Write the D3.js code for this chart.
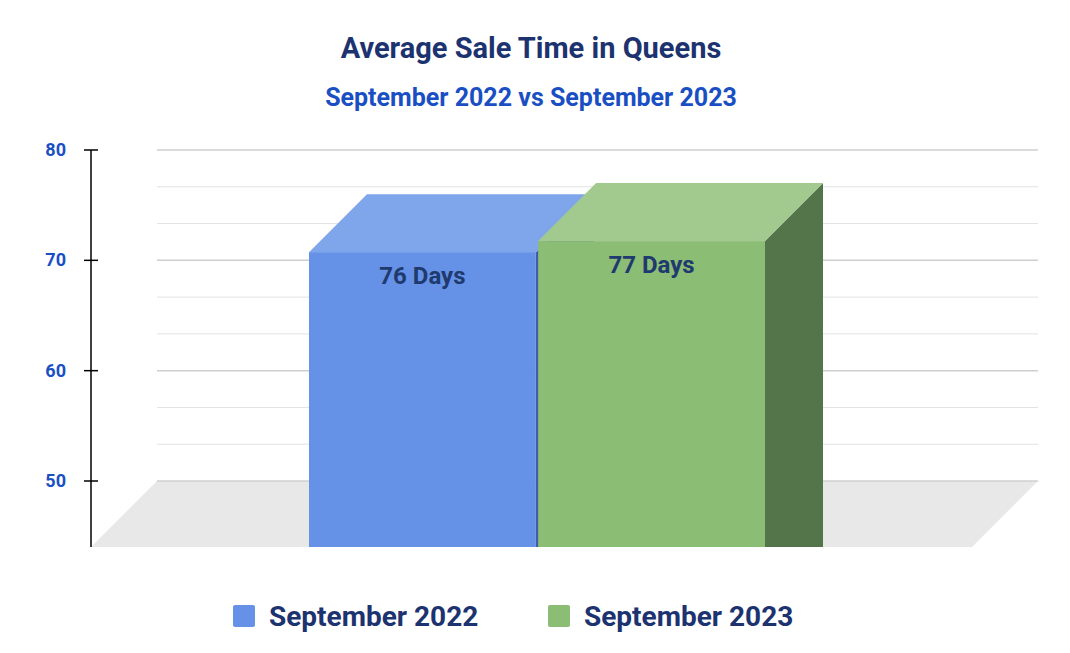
<!DOCTYPE html><html><head><meta charset="utf-8">
<script src="https://cdn.jsdelivr.net/npm/d3@7"></script>
<style>body{margin:0;background:#fff}</style></head><body>
<svg id="c" width="1070" height="653"></svg>
<script>
const categories=["September 2022","September 2023"];
const values=[76,77];
const labels=["76 Days","77 Days"];
const yTicks=[50,60,70,80];
const colors=[{front:"#6592e6",top:"#7fa5ea",side:"#3e5fa8"},{front:"#8bbd74",top:"#a2ca8f",side:"#54744a"}];

const svg=d3.select("#c");
const font="Roboto, Arial, sans-serif";
const y=d3.scaleLinear().domain([50,80]).range([481,150]);
const x=d3.scaleBand().domain(categories).range([309,765]).paddingInner(0.01);
const dx=58, dy=58, fdx=66, fdy=66;

// floor
svg.append("polygon").attr("points",`91,547 157,481 1038,481 972,547`).attr("fill","#e8e8e8");
// grid
d3.range(50,80.01,10/3).forEach(v=>{
  const major=Math.abs(v-Math.round(v/10)*10)<0.01;
  svg.append("line").attr("x1",157).attr("x2",1038).attr("y1",y(v)).attr("y2",y(v))
   .attr("stroke",major?"#cfcfcf":"#e2e2e2").attr("stroke-width",major?1.5:1);
});
// axis
svg.append("line").attr("x1",91).attr("x2",91).attr("y1",150).attr("y2",547).attr("stroke","#000").attr("stroke-width",1.5);
yTicks.forEach(t=>{
  svg.append("line").attr("x1",84).attr("x2",98).attr("y1",y(t)).attr("y2",y(t)).attr("stroke","#000").attr("stroke-width",1.5);
  svg.append("text").attr("x",66).attr("y",y(t)+6).attr("text-anchor","end").attr("font-family",font)
   .attr("font-weight","bold").attr("font-size",18).attr("fill","#1a4fc4").text(t);
});
// bars
categories.forEach((c,i)=>{
  const x0=x(c), w=x.bandwidth(), yb=y(values[i]), yf=yb+dy, bottom=547;
  const col=colors[i];
  svg.append("polygon").attr("points",`${x0+w},${yf} ${x0+w+dx},${yb} ${x0+w+dx},${bottom} ${x0+w},${bottom}`).attr("fill",col.side);
  svg.append("polygon").attr("points",`${x0},${yf} ${x0+dx},${yb} ${x0+w+dx},${yb} ${x0+w},${yf}`).attr("fill",col.top);
  svg.append("rect").attr("x",x0).attr("y",yf).attr("width",w).attr("height",bottom-yf).attr("fill",col.front);
  svg.append("text").attr("x",x0+w/2).attr("y",yf+32).attr("text-anchor","middle").attr("font-family",font)
   .attr("font-weight","bold").attr("font-size",24).attr("fill","#1f3a6e").text(labels[i]);
});
// titles
svg.append("text").attr("x",531).attr("y",58).attr("text-anchor","middle").attr("font-family",font)
 .attr("font-weight","bold").attr("font-size",29).attr("fill","#1c3370").text("Average Sale Time in Queens");
svg.append("text").attr("x",531).attr("y",106).attr("text-anchor","middle").attr("font-family",font)
 .attr("font-weight","bold").attr("font-size",25).attr("fill","#1a4fc4").text("September 2022 vs September 2023");
// legend
const lx=[233,548];
categories.forEach((c,i)=>{
  svg.append("rect").attr("x",lx[i]).attr("y",605).attr("width",22).attr("height",22).attr("rx",2).attr("fill",colors[i].front);
  svg.append("text").attr("x",lx[i]+36).attr("y",626).attr("font-family",font).attr("font-weight","bold")
   .attr("font-size",28).attr("fill","#1c3370").text(c);
});
</script></body></html>
